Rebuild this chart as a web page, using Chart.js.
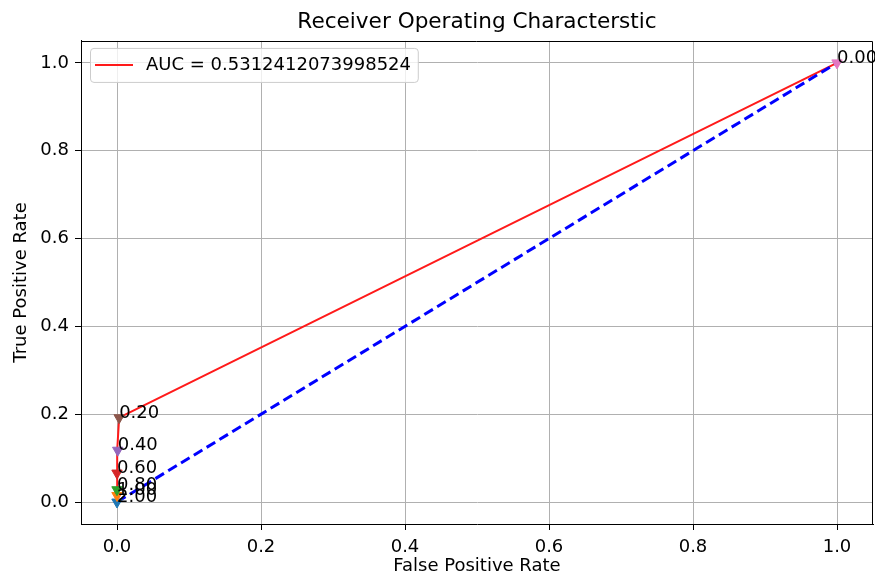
<!DOCTYPE html>
<html>
<head>
<meta charset="utf-8">
<title>ROC</title>
<script src="https://cdn.jsdelivr.net/npm/chart.js@4.4.1/dist/chart.umd.min.js"></script>
<style>
    html, body { margin: 0; padding: 0; background: #fff; overflow: hidden; }
    #wrap { width: 875px; height: 578px; }
    canvas { display: block; }
</style>
</head>
<body>
<div id="wrap"><canvas id="roc"></canvas></div>
<script>
// --- DATA ---
const fpr = [0.0, 0.0, 0.0, 0.0, 0.001, 0.003, 1.0];
const tpr = [0.0, 0.015, 0.028, 0.066, 0.118, 0.192, 1.0];
const thresholds = ['2.00', '1.00', '0.80', '0.60', '0.40', '0.20', '0.00'];
const chanceX = [0, 1];
const chanceY = [0, 1];
const aucLabel = 'AUC = 0.5312412073998524';
const tickValues = [0.0, 0.2, 0.4, 0.6, 0.8, 1.0];

// matplotlib default colour cycle, one per threshold marker
const markerColors = ['#1f77b4', '#ff7f0e', '#2ca02c', '#d62728', '#9467bd', '#8c564b', '#e377c2'];

const FONT = 18;
Chart.defaults.font.family = '"DejaVu Sans", sans-serif';
Chart.defaults.font.size = FONT;
Chart.defaults.color = '#000';

const toPoints = (xs, ys) => xs.map((v, i) => ({ x: v, y: ys[i] }));

// --- extra drawing: top/right spines, threshold labels, legend box ---
const extras = {
    id: 'extras',
    afterDraw(chart) {
        const { ctx, chartArea: a, scales: { x, y } } = chart;
        ctx.save();

        ctx.strokeStyle = '#000';
        ctx.lineWidth = 1;
        ctx.beginPath();
        ctx.moveTo(Math.round(a.left), Math.round(a.top) + 0.5);
        ctx.lineTo(Math.round(a.right) - 0.5, Math.round(a.top) + 0.5);
        ctx.lineTo(Math.round(a.right) - 0.5, Math.round(a.bottom));
        ctx.stroke();

        ctx.font = FONT + 'px "DejaVu Sans"';
        ctx.fillStyle = '#000';
        ctx.textAlign = 'left';
        ctx.textBaseline = 'alphabetic';
        thresholds.forEach((t, i) => {
            ctx.fillText(t, x.getPixelForValue(fpr[i]), y.getPixelForValue(tpr[i]));
        });

        // legend
        const roc = chart.data.datasets.find(d => d.id === 'roc');
        const textW = ctx.measureText(roc.label).width;
        const bl = a.left + 9;
        const bt = a.top + 7;
        const bw = 0.4 * FONT + 2 * FONT + 0.8 * FONT + textW + 0.4 * FONT - 2;
        const bh = 34;
        ctx.beginPath();
        ctx.roundRect(bl + 0.5, bt + 0.5, bw, bh, 3.5);
        ctx.fillStyle = 'rgba(255,255,255,0.8)';
        ctx.fill();
        ctx.strokeStyle = '#cccccc';
        ctx.stroke();

        const cy = bt + bh / 2;
        const hx = bl + 5;
        ctx.beginPath();
        ctx.moveTo(hx, cy);
        ctx.lineTo(hx + 38, cy);
        ctx.strokeStyle = roc.borderColor;
        ctx.lineWidth = roc.borderWidth;
        ctx.stroke();

        ctx.fillStyle = '#000';
        ctx.textBaseline = 'middle';
        ctx.fillText(roc.label, bl + 56, cy + 0.5);
        ctx.restore();
    }
};

const gridOpts = { color: '#b0b0b0', lineWidth: 1, tickColor: '#000', tickLength: 6, tickWidth: 1 };
const noPad = s => { s.paddingLeft = 0; s.paddingRight = 0; s.paddingTop = 0; s.paddingBottom = 0; };

new Chart(document.getElementById('roc'), {
    type: 'scatter',
    data: {
        datasets: [
            {
                id: 'markers',
                data: toPoints(fpr, tpr),
                pointStyle: 'triangle',
                rotation: 180,
                pointRadius: 6,
                pointBackgroundColor: markerColors,
                pointBorderColor: markerColors,
                pointBorderWidth: 1,
                order: 0
            },
            {
                id: 'chance',
                data: toPoints(chanceX, chanceY),
                showLine: true,
                pointRadius: 0,
                borderColor: '#0000ff',
                borderWidth: 3,
                borderDash: [10, 5],
                order: 1
            },
            {
                id: 'roc',
                label: aucLabel,
                data: toPoints(fpr, tpr),
                showLine: true,
                pointRadius: 0,
                borderColor: '#ff1a1a',
                borderWidth: 2,
                order: 2
            }
        ]
    },
    options: {
        responsive: true,
        maintainAspectRatio: false,
        animation: false,
        layout: { autoPadding: false, padding: { left: 0, right: 2, top: 0, bottom: 0 } },
        plugins: {
            legend: { display: false },
            tooltip: { enabled: false },
            title: {
                display: true,
                fullSize: false,
                text: 'Receiver Operating Characterstic',
                font: { size: 21.6, weight: 'normal' },
                padding: { top: 9, bottom: 6 },
                color: '#000'
            }
        },
        scales: {
            x: {
                type: 'linear',
                min: -0.05,
                max: 1.05,
                afterBuildTicks: s => { s.ticks = tickValues.map(v => ({ value: v })); },
                afterFit: s => { s.height = 54; noPad(s); },
                grid: gridOpts,
                border: { display: true, color: '#000', width: 1 },
                ticks: { autoSkip: false, maxRotation: 0, padding: 7, callback: v => v.toFixed(1) },
                title: { display: true, text: 'False Positive Rate', padding: { top: 0, bottom: 0.5 } }
            },
            y: {
                type: 'linear',
                min: -0.05,
                max: 1.05,
                afterBuildTicks: s => { s.ticks = tickValues.map(v => ({ value: v })); },
                afterFit: s => { s.width = 81; noPad(s); },
                grid: gridOpts,
                border: { display: true, color: '#000', width: 1 },
                ticks: { autoSkip: false, padding: 6, callback: v => v.toFixed(1) },
                title: { display: true, text: 'True Positive Rate', padding: { top: 10.5, bottom: 0 } }
            }
        }
    },
    plugins: [extras]
});
</script>
</body>
</html>
